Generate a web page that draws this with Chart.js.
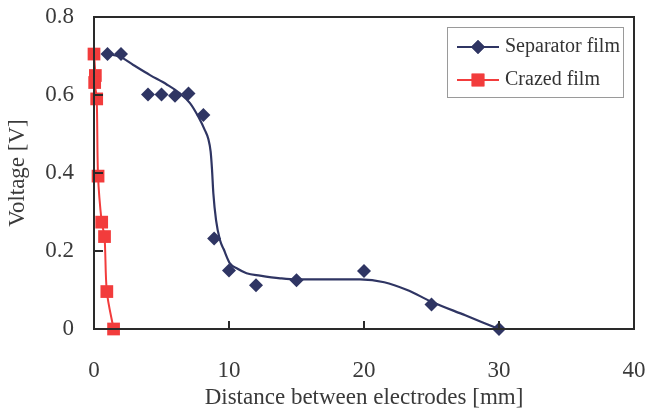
<!DOCTYPE html>
<html>
<head>
<meta charset="utf-8">
<script src="https://cdn.jsdelivr.net/npm/chart.js@4.4.0/dist/chart.umd.min.js"></script>
<style>
  html, body { margin: 0; padding: 0; background: #fff; }
  #wrap { width: 646px; height: 412px; }
</style>
</head>
<body>
<div id="wrap"><canvas id="chart"></canvas></div>
<script>
// measured points, separator film
var sepX = [1, 2, 4, 5, 6, 7, 8.1, 8.9, 10, 12, 15, 20, 25, 30];
var sepY = [0.705, 0.705, 0.601, 0.601, 0.598, 0.604, 0.549, 0.232, 0.15, 0.112, 0.125, 0.149, 0.063, 0];

// fitted curve for separator film
var sepCurveX = [1, 1.93, 2.91, 4.15, 5.39, 6.37, 7.11, 7.73, 8.21, 8.47, 8.64, 8.74, 8.84, 9.04, 9.33, 9.6, 10.07, 10.6, 11.3, 12.3, 13.8, 15, 17, 19.7, 21.5, 23.2, 25, 27.5, 30];
var sepCurveY = [0.705, 0.698, 0.677, 0.651, 0.627, 0.604, 0.579, 0.544, 0.51, 0.487, 0.455, 0.41, 0.348, 0.279, 0.228, 0.205, 0.168, 0.155, 0.143, 0.137, 0.13, 0.127, 0.127, 0.127, 0.12, 0.1, 0.07, 0.035, 0];

// crazed film
var crazX = [0, 0.1, 0.05, 0.2, 0.3, 0.57, 0.78, 0.95, 1.45];
var crazY = [0.705, 0.65, 0.632, 0.59, 0.392, 0.274, 0.237, 0.096, 0];

var xTicks = [0, 10, 20, 30, 40];
var yTicks = [0, 0.2, 0.4, 0.6, 0.8];

var NAVY = '#2f3563';
var RED = '#f23c3c';
var SERIF = '"Liberation Serif", "Times New Roman", serif';

function pts(xs, ys) {
  return xs.map(function (x, i) { return { x: x, y: ys[i] }; });
}

// frame + inward tick marks
var frame = {
  id: 'frame',
  afterDatasetsDraw: function (chart) {
    var ctx = chart.ctx, a = chart.chartArea;
    var xs = chart.scales.x, ys = chart.scales.y;
    ctx.save();
    ctx.strokeStyle = '#2a2a2a';
    ctx.lineWidth = 2;
    ctx.strokeRect(a.left, a.top, a.right - a.left, a.bottom - a.top);
    ctx.beginPath();
    xTicks.slice(1, -1).forEach(function (v) {
      var px = xs.getPixelForValue(v);
      ctx.moveTo(px, a.bottom);
      ctx.lineTo(px, a.bottom - 8);
    });
    yTicks.slice(1, -1).forEach(function (v) {
      var py = ys.getPixelForValue(v);
      ctx.moveTo(a.left, py);
      ctx.lineTo(a.left + 9, py);
    });
    ctx.stroke();
    ctx.restore();
  }
};

// legend with line + marker samples
var legendBox = {
  id: 'legendBox',
  afterDraw: function (chart) {
    var ctx = chart.ctx;
    ctx.save();
    ctx.fillStyle = '#fff';
    ctx.fillRect(447, 27, 176, 70);
    ctx.strokeStyle = '#9a9a9a';
    ctx.lineWidth = 1;
    ctx.strokeRect(447.5, 27.5, 176, 70);
    var rows = [
      { label: 'Separator film', color: NAVY, style: 'rectRot', r: 7, y: 47 },
      { label: 'Crazed film', color: RED, style: 'rect', r: 9, y: 80 }
    ];
    rows.forEach(function (row) {
      ctx.strokeStyle = row.color;
      ctx.lineWidth = 2;
      ctx.beginPath();
      ctx.moveTo(457, row.y);
      ctx.lineTo(499, row.y);
      ctx.stroke();
      ctx.fillStyle = row.color;
      Chart.helpers.drawPoint(ctx, { pointStyle: row.style, radius: row.r, borderWidth: 0 }, 478, row.y);
      ctx.fill();
      ctx.fillStyle = '#333';
      ctx.font = '20px ' + SERIF;
      ctx.textBaseline = 'middle';
      ctx.fillText(row.label, 505, row.y);
    });
    ctx.restore();
  }
};

new Chart(document.getElementById('chart'), {
  type: 'scatter',
  data: {
    datasets: [
      {
        label: 'Separator film',
        data: pts(sepX, sepY),
        showLine: false,
        pointStyle: 'rectRot',
        pointRadius: 7,
        backgroundColor: NAVY,
        borderColor: NAVY,
        borderWidth: 0,
        clip: false
      },
      {
        label: 'Crazed film',
        data: pts(crazX, crazY),
        showLine: true,
        tension: 0.3,
        pointStyle: 'rect',
        pointRadius: 9,
        backgroundColor: RED,
        borderColor: RED,
        pointBorderWidth: 0,
        borderWidth: 2,
        clip: false
      },
      {
        label: 'fit',
        data: pts(sepCurveX, sepCurveY),
        showLine: true,
        cubicInterpolationMode: 'monotone',
        pointRadius: 0,
        borderColor: NAVY,
        borderWidth: 2.2,
        clip: false
      }
    ]
  },
  options: {
    responsive: true,
    maintainAspectRatio: false,
    animation: false,
    layout: { padding: { top: 17, right: 12, left: 0, bottom: 0 } },
    plugins: { legend: { display: false }, tooltip: { enabled: false } },
    scales: {
      x: {
        type: 'linear',
        min: 0,
        max: 40,
        afterBuildTicks: function (s) { s.ticks = xTicks.map(function (v) { return { value: v }; }); },
        afterFit: function (s) {
          s.height = 83;
          s.paddingLeft = 0; s.paddingRight = 0; s.paddingTop = 0; s.paddingBottom = 0;
        },
        grid: { display: false, drawTicks: false },
        border: { display: false },
        ticks: { padding: 28, color: '#3a3a3a', font: { family: SERIF, size: 23 } },
        title: {
          display: true,
          text: 'Distance between electrodes [mm]',
          color: '#3a3a3a',
          font: { family: SERIF, size: 23 },
          padding: { top: 0, bottom: 0 }
        }
      },
      y: {
        type: 'linear',
        min: 0,
        max: 0.8,
        afterBuildTicks: function (s) { s.ticks = yTicks.map(function (v) { return { value: v }; }); },
        afterFit: function (s) {
          s.width = 94;
          s.paddingLeft = 0; s.paddingRight = 0; s.paddingTop = 0; s.paddingBottom = 0;
        },
        grid: { display: false, drawTicks: false },
        border: { display: false },
        ticks: {
          padding: 20,
          color: '#3a3a3a',
          font: { family: SERIF, size: 23 },
          callback: function (v) { return v === 0 ? '0' : v.toFixed(1); }
        },
        title: {
          display: true,
          text: 'Voltage [V]',
          color: '#3a3a3a',
          font: { family: SERIF, size: 23 },
          padding: { top: 4, bottom: 0 }
        }
      }
    }
  },
  plugins: [frame, legendBox]
});
</script>
</body>
</html>
